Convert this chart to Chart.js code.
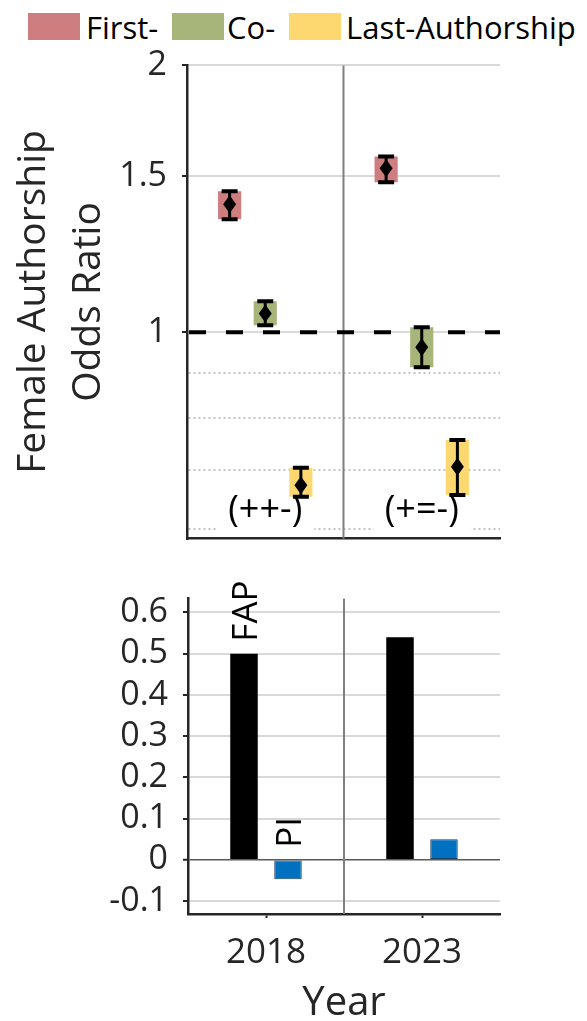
<!DOCTYPE html>
<html>
<head>
  <title>Female Authorship Odds Ratio</title>
  <style>
      body {
          margin: 0;
          background: #ffffff;
          font-family: "Open Sans", sans-serif;
          overflow: hidden;
      }
      .page {
          position: relative;
          width: 587px;
          height: 1021px;
      }
      .legend-box {
          position: absolute;
          top: 13px;
          width: 52px;
          height: 27px;
      }
      .legend-text {
          position: absolute;
          top: 12px;
          font-size: 31px;
          line-height: 31px;
          color: #000;
          white-space: nowrap;
      }
      .chart-box {
          position: absolute;
          left: 0;
          width: 587px;
      }
  </style>
</head>
<body>
  <div class="page">
      <div class="legend-box" style="left:28px; background:#cf7e80"></div>
      <div class="legend-text" style="left:86px">First-</div>
      <div class="legend-box" style="left:172px; background:#a8b57a"></div>
      <div class="legend-text" style="left:227px">Co-</div>
      <div class="legend-box" style="left:289px; background:#fdd770"></div>
      <div class="legend-text" style="left:346px">Last-Authorship</div>

      <div class="chart-box" style="top:30px; height:544px">
          <canvas id="oddsChart"></canvas>
      </div>
      <div class="chart-box" style="top:563px; height:458px">
          <canvas id="gapChart"></canvas>
      </div>
  </div>

  <script src="https://cdn.jsdelivr.net/npm/chart.js"></script>
  <script>
      // values
      const years = ['2018', '2023'];

      const firstOR = [1.394, 1.531];
      const firstLow = [1.341, 1.476];
      const firstHigh = [1.442, 1.579];
      const coOR = [1.05, 0.962];
      const coLow = [1.018, 0.913];
      const coHigh = [1.084, 1.013];
      const lastOR = [0.672, 0.705];
      const lastLow = [0.652, 0.655];
      const lastHigh = [0.703, 0.756];
      const patterns = ['(++-)', '(+=-)'];

      const orTicks = [0.6, 0.7, 0.8, 0.9, 1, 1.5, 2];
      const orLabelled = [1, 1.5, 2];

      const fapGap = [0.5, 0.54];
      const piGap = [-0.047, 0.05];
      const gapTicks = [-0.1, 0, 0.1, 0.2, 0.3, 0.4, 0.5, 0.6];
      const barLabels = ['FAP', 'PI'];

      const FONT = '"Open Sans", sans-serif';
      const INK = '#262626';
      Chart.defaults.font.family = FONT;
      Chart.defaults.color = INK;

      // grey line between the two years
      const yearDivider = {
          id: 'yearDivider',
          beforeDatasetsDraw(chart) {
              const {ctx, chartArea, scales: {x}} = chart;
              const mid = (x.getPixelForValue(0) + x.getPixelForValue(1)) / 2;
              ctx.save();
              ctx.strokeStyle = '#7f7f7f';
              ctx.lineWidth = 2;
              ctx.beginPath();
              ctx.moveTo(mid, chartArea.top);
              ctx.lineTo(mid, chartArea.bottom);
              ctx.stroke();
              ctx.restore();
          }
      };

      // dashed reference at OR = 1 and the pattern notes
      const oddsExtras = {
          id: 'oddsExtras',
          beforeDatasetsDraw(chart) {
              const {ctx, chartArea, scales: {x, y}} = chart;
              const y1 = y.getPixelForValue(1);
              ctx.save();
              ctx.strokeStyle = '#000';
              ctx.lineWidth = 4;
              ctx.setLineDash([17, 20]);
              ctx.beginPath();
              ctx.moveTo(chartArea.left + 2, y1);
              ctx.lineTo(chartArea.right, y1);
              ctx.stroke();
              ctx.setLineDash([]);

              ctx.font = '36px ' + FONT;
              ctx.textAlign = 'center';
              ctx.textBaseline = 'middle';
              patterns.forEach((p, i) => {
                  const px = x.getPixelForValue(i);
                  ctx.fillStyle = '#fff';
                  ctx.fillRect(px - 48, chartArea.bottom - 48, 97, 46);
                  ctx.fillStyle = '#000';
                  ctx.fillText(p, px, chartArea.bottom - 28);
              });
              ctx.restore();
          },
          afterDatasetsDraw(chart) {
              const {ctx, scales: {y}} = chart;
              ctx.save();
              ctx.strokeStyle = '#000';
              ctx.fillStyle = '#000';
              chart.data.datasets.forEach((ds, i) => {
                  chart.getDatasetMeta(i).data.forEach((bar, j) => {
                      const bx = bar.x;
                      const top = y.getPixelForValue(ds.data[j][1]);
                      const bot = y.getPixelForValue(ds.data[j][0]);
                      const mid = y.getPixelForValue(ds.or[j]);
                      ctx.lineWidth = 3;
                      ctx.beginPath();
                      ctx.moveTo(bx, top);
                      ctx.lineTo(bx, bot);
                      ctx.stroke();
                      ctx.lineWidth = 4;
                      ctx.beginPath();
                      ctx.moveTo(bx - 8, top);
                      ctx.lineTo(bx + 8, top);
                      ctx.moveTo(bx - 8, bot);
                      ctx.lineTo(bx + 8, bot);
                      ctx.stroke();
                      ctx.beginPath();
                      ctx.moveTo(bx, mid - 9);
                      ctx.lineTo(bx + 6.5, mid);
                      ctx.lineTo(bx, mid + 9);
                      ctx.lineTo(bx - 6.5, mid);
                      ctx.closePath();
                      ctx.fill();
                  });
              });
              ctx.restore();
          }
      };

      // FAP / PI names written up the 2018 bars
      const barNames = {
          id: 'barNames',
          afterDatasetsDraw(chart) {
              const {ctx, scales: {y}} = chart;
              ctx.save();
              ctx.font = '35px ' + FONT;
              ctx.fillStyle = '#000';
              ctx.textAlign = 'left';
              ctx.textBaseline = 'alphabetic';
              chart.data.datasets.forEach((ds, i) => {
                  const bar = chart.getDatasetMeta(i).data[0];
                  const top = y.getPixelForValue(Math.max(ds.data[0], 0));
                  ctx.save();
                  ctx.translate(bar.x + 13, top - 12);
                  ctx.rotate(-Math.PI / 2);
                  ctx.fillText(barLabels[i], 0, 0);
                  ctx.restore();
              });
              ctx.restore();
          }
      };

      const series = [
          {label: 'First-', color: '#cf7e80', or: firstOR, low: firstLow, high: firstHigh},
          {label: 'Co-', color: '#a8b57a', or: coOR, low: coLow, high: coHigh},
          {label: 'Last-Authorship', color: '#fdd770', or: lastOR, low: lastLow, high: lastHigh}
      ];

      new Chart(document.getElementById('oddsChart'), {
          type: 'bar',
          data: {
              labels: years,
              datasets: series.map(s => ({
                  label: s.label,
                  data: s.low.map((v, i) => [v, s.high[i]]),
                  or: s.or,
                  backgroundColor: s.color,
                  categoryPercentage: 0.683,
                  barPercentage: 0.65
              }))
          },
          options: {
              responsive: true,
              maintainAspectRatio: false,
              animation: false,
              layout: {padding: {left: 0, right: 87, top: 0, bottom: 0}},
              plugins: {legend: {display: false}, tooltip: {enabled: false}},
              scales: {
                  x: {
                      grid: {display: false},
                      border: {color: INK, width: 2.5},
                      ticks: {display: false},
                      afterFit: s => { s.height = 0; }
                  },
                  y: {
                      type: 'logarithmic',
                      min: 0.585,
                      max: 2,
                      afterBuildTicks: s => { s.ticks = orTicks.map(v => ({value: v})); },
                      afterFit: s => { s.width = 187; },
                      ticks: {
                          autoSkip: false,
                          padding: 15,
                          color: INK,
                          font: {size: 34},
                          callback: v => orLabelled.includes(v) ? String(v) : ''
                      },
                      grid: {
                          color: c => c.tick && c.tick.value < 1 ? '#c3c3c3' : '#d9d9d9',
                          lineWidth: 2,
                          tickLength: 5,
                          tickWidth: 2,
                          tickColor: c => c.tick && orLabelled.includes(c.tick.value) ? INK : 'rgba(0,0,0,0)'
                      },
                      border: {
                          color: INK,
                          width: 2.5,
                          dash: c => c.tick && c.tick.value < 1 ? [2, 3] : []
                      },
                      title: {
                          display: true,
                          text: ['Female Authorship', 'Odds Ratio'],
                          color: INK,
                          font: {size: 39, lineHeight: 1.4},
                          padding: {top: 7, bottom: 0}
                      }
                  }
              }
          },
          plugins: [yearDivider, oddsExtras]
      });

      new Chart(document.getElementById('gapChart'), {
          type: 'bar',
          data: {
              labels: years,
              datasets: [
                  {
                      label: 'FAP',
                      data: fapGap,
                      backgroundColor: '#000000',
                      categoryPercentage: 0.564,
                      barPercentage: 0.625
                  },
                  {
                      label: 'PI',
                      data: piGap,
                      backgroundColor: '#0070c0',
                      borderColor: '#1f3f66',
                      borderWidth: 1,
                      borderSkipped: false,
                      categoryPercentage: 0.564,
                      barPercentage: 0.625
                  }
              ]
          },
          options: {
              responsive: true,
              maintainAspectRatio: false,
              animation: false,
              layout: {padding: {left: 0, right: 87, top: 0, bottom: 0}},
              plugins: {legend: {display: false}, tooltip: {enabled: false}},
              scales: {
                  x: {
                      grid: {
                          offset: false,
                          drawOnChartArea: false,
                          tickLength: 4,
                          tickWidth: 2,
                          tickColor: INK
                      },
                      border: {color: INK, width: 2.5},
                      ticks: {padding: 14, color: INK, font: {size: 35}},
                      title: {
                          display: true,
                          text: 'Year',
                          color: INK,
                          font: {size: 40, lineHeight: 0.8},
                          padding: {top: 12, bottom: 1}
                      },
                      afterFit: s => { s.height = 107; }
                  },
                  y: {
                      min: -0.1315,
                      max: 0.634,
                      afterBuildTicks: s => { s.ticks = gapTicks.map(v => ({value: v})); },
                      afterFit: s => { s.width = 188; },
                      ticks: {
                          autoSkip: false,
                          padding: 15,
                          color: INK,
                          font: {size: 34},
                          callback: v => v === 0 ? '0' : v.toFixed(1)
                      },
                      grid: {
                          color: c => c.tick && c.tick.value === 0 ? '#595959' : '#d9d9d9',
                          lineWidth: c => c.tick && c.tick.value === 0 ? 1.5 : 2,
                          tickLength: 5,
                          tickWidth: 2,
                          tickColor: INK
                      },
                      border: {color: INK, width: 2.5}
                  }
              }
          },
          plugins: [yearDivider, barNames]
      });
  </script>
</body>
</html>
